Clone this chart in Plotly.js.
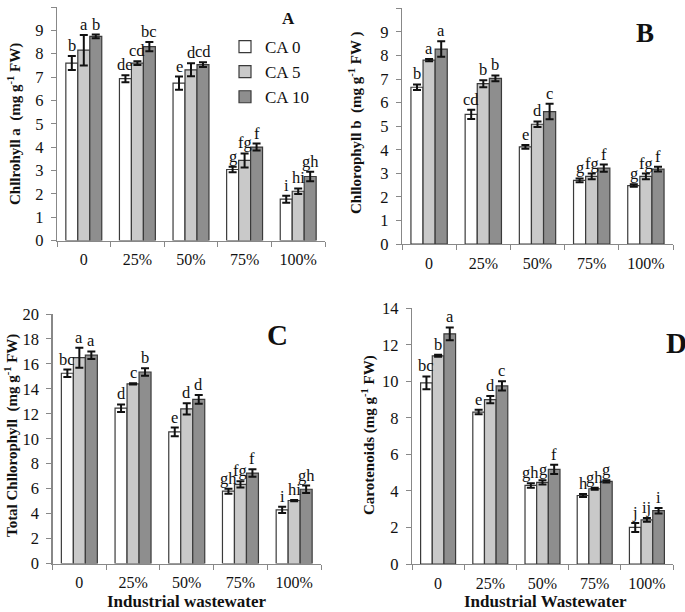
<!DOCTYPE html>
<html>
<head>
<meta charset="utf-8">
<script src="https://cdn.plot.ly/plotly-3.0.1.min.js"></script>
<style>html,body{margin:0;padding:0;background:#fff;}#chart{width:685px;height:612px;}</style>
</head>
<body>
<div id="chart"></div>
<script>
// ---- data ----
const categories = ['0', '25%', '50%', '75%', '100%'];
const seriesNames = ['CA 0', 'CA 5', 'CA 10'];

// Panel A: Chlorophyll a
const chlA_CA0 = [7.6, 6.93, 6.74, 3.04, 1.77];
const chlA_CA5 = [8.15, 7.6, 7.31, 3.43, 2.11];
const chlA_CA10 = [8.74, 8.3, 7.53, 4.0, 2.74];
const chlA_CA0_err = [0.3, 0.15, 0.28, 0.12, 0.15];
const chlA_CA5_err = [0.65, 0.08, 0.28, 0.3, 0.12];
const chlA_CA10_err = [0.08, 0.2, 0.1, 0.15, 0.2];
const chlA_CA0_let = ['b', 'de', 'e', 'g', 'i'];
const chlA_CA5_let = ['a', 'cd', 'd', 'fg', 'hi'];
const chlA_CA10_let = ['b', 'bc', 'cd', 'f', 'gh'];

// Panel B: Chlorophyll b
const chlB_CA0 = [6.65, 5.5, 4.12, 2.7, 2.48];
const chlB_CA5 = [7.8, 6.8, 5.08, 2.87, 2.87];
const chlB_CA10 = [8.27, 7.03, 5.62, 3.22, 3.18];
const chlB_CA0_err = [0.12, 0.2, 0.08, 0.08, 0.05];
const chlB_CA5_err = [0.05, 0.15, 0.12, 0.12, 0.12];
const chlB_CA10_err = [0.33, 0.12, 0.33, 0.15, 0.1];
const chlB_CA0_let = ['b', 'cd', 'e', 'g', 'g'];
const chlB_CA5_let = ['a', 'b', 'd', 'fg', 'fg'];
const chlB_CA10_let = ['a', 'b', 'c', 'f', 'f'];

// Panel C: Total chlorophyll
const tot_CA0 = [15.25, 12.45, 10.55, 5.8, 4.3];
const tot_CA5 = [16.5, 14.4, 12.4, 6.35, 5.05];
const tot_CA10 = [16.7, 15.35, 13.15, 7.25, 5.95];
const tot_CA0_err = [0.3, 0.3, 0.35, 0.2, 0.25];
const tot_CA5_err = [0.8, 0.05, 0.45, 0.25, 0.05];
const tot_CA10_err = [0.3, 0.3, 0.35, 0.3, 0.3];
const tot_CA0_let = ['bc', 'd', 'e', 'gh', 'i'];
const tot_CA5_let = ['a', 'c', 'd', 'fg', 'hi'];
const tot_CA10_let = ['a', 'b', 'd', 'f', 'gh'];

// Panel D: Carotenoids
const car_CA0 = [9.92, 8.32, 4.3, 3.75, 2.0];
const car_CA5 = [11.4, 9.0, 4.47, 4.12, 2.42];
const car_CA10 = [12.6, 9.75, 5.18, 4.52, 2.92];
const car_CA0_err = [0.35, 0.12, 0.12, 0.08, 0.25];
const car_CA5_err = [0.05, 0.2, 0.12, 0.06, 0.1];
const car_CA10_err = [0.35, 0.25, 0.25, 0.06, 0.15];
const car_CA0_let = ['bc', 'e', 'gh', 'h', 'j'];
const car_CA5_let = ['b', 'd', 'g', 'gh', 'ij'];
const car_CA10_let = ['a', 'c', 'f', 'g', 'i'];

// ---- styling ----
const W = 685, H = 612;
const SERIF = '"Liberation Serif", "Times New Roman", serif';
const fills = ['#ffffff', '#c9c9c9', '#8e8e8e'];
const BARGAP = 0.33;
const barW = (1 - BARGAP) / 3;

const panels = [
  {xa: 'x', ya: 'y', vals: [chlA_CA0, chlA_CA5, chlA_CA10], errs: [chlA_CA0_err, chlA_CA5_err, chlA_CA10_err], lets: [chlA_CA0_let, chlA_CA5_let, chlA_CA10_let], legend: true},
  {xa: 'x2', ya: 'y2', vals: [chlB_CA0, chlB_CA5, chlB_CA10], errs: [chlB_CA0_err, chlB_CA5_err, chlB_CA10_err], lets: [chlB_CA0_let, chlB_CA5_let, chlB_CA10_let]},
  {xa: 'x3', ya: 'y3', vals: [tot_CA0, tot_CA5, tot_CA10], errs: [tot_CA0_err, tot_CA5_err, tot_CA10_err], lets: [tot_CA0_let, tot_CA5_let, tot_CA10_let]},
  {xa: 'x4', ya: 'y4', vals: [car_CA0, car_CA5, car_CA10], errs: [car_CA0_err, car_CA5_err, car_CA10_err], lets: [car_CA0_let, car_CA5_let, car_CA10_let]}
];

const traces = [];
const annotations = [];
panels.forEach((p, pi) => {
  for (let s = 0; s < 3; s++) {
    traces.push({
      type: 'bar', x: categories, y: p.vals[s], name: seriesNames[s],
      xaxis: p.xa, yaxis: p.ya, legendgroup: seriesNames[s],
      showlegend: !!p.legend,
      marker: {color: fills[s], line: {color: '#3a3a3a', width: 1.2}},
      error_y: {type: 'data', array: p.errs[s], visible: true, color: '#111', thickness: 2, width: 4}
    });
    for (let i = 0; i < categories.length; i++) {
      annotations.push({
        xref: p.xa, yref: p.ya, x: i + (s - 1) * barW, y: p.vals[s][i] + p.errs[s][i],
        text: p.lets[s][i], showarrow: false, yanchor: 'bottom', xanchor: 'center',
        borderpad: 0, yshift: 0,
        font: {family: SERIF, size: 16.5, color: '#111'}
      });
    }
  }
});

function px(x) { return x / W; }
function py(y) { return 1 - y / H; }

function paperText(text, x, y, size, opts) {
  return Object.assign({xref: 'paper', yref: 'paper', x: px(x), y: py(y), text: text, showarrow: false,
    xanchor: 'center', yanchor: 'middle', font: {family: SERIF, size: size, color: '#111'}}, opts || {});
}

// axis titles and panel letters
annotations.push(paperText('<b>Chllrohyll a  (mg g<sup>-1</sup> FW)</b>', 15, 124, 15, {textangle: -90}));
annotations.push(paperText('<b>Chllorophyll b  (mg g<sup>-1</sup> FW )</b>', 356, 123, 15, {textangle: -90}));
annotations.push(paperText('<b>Total Chllorophyll  (mg g<sup>-1</sup> FW)</b>', 11, 436, 15, {textangle: -90}));
annotations.push(paperText('<b>Carotenoids (mg g<sup>-1</sup> FW)</b>', 368, 435, 15, {textangle: -90}));
annotations.push(paperText('<b>Industrial wastewater</b>', 187, 601, 17));
annotations.push(paperText('<b>Industrial Wastewater</b>', 545, 601, 17));
annotations.push(paperText('<b>A</b>', 288, 18, 17));
annotations.push(paperText('<b>B</b>', 645, 33, 27));
annotations.push(paperText('<b>C</b>', 277, 335, 29));
annotations.push(paperText('<b>D</b>', 664, 343, 29, {xanchor: 'left'}));

function xaxis(x0, x1, anchor) {
  return {domain: [px(x0), px(x1)], anchor: anchor, type: 'category', tickson: 'boundaries',
    ticks: 'outside', ticklen: 5, tickcolor: '#888', tickwidth: 1, showline: true, linecolor: '#888', linewidth: 1.3,
    showgrid: false, zeroline: false, tickfont: {family: SERIF, size: 16, color: '#111'}, ticklabelstandoff: 4,
    fixedrange: true};
}
function yaxis(y0, y1, anchor, maxv, dtick) {
  return {domain: [py(y1), py(y0)], anchor: anchor, range: [0, maxv], dtick: dtick, tick0: 0,
    ticks: 'outside', ticklen: 5, tickcolor: '#888', tickwidth: 1, showline: true, linecolor: '#888', linewidth: 1.3,
    showgrid: false, zeroline: false, tickfont: {family: SERIF, size: 16.5, color: '#111'}, ticklabelstandoff: 4,
    fixedrange: true};
}

const layout = {
  width: W, height: H, margin: {l: 0, r: 0, t: 0, b: 0},
  paper_bgcolor: '#fff', plot_bgcolor: '#fff',
  barmode: 'group', bargap: BARGAP, bargroupgap: 0,
  showlegend: true,
  legend: {x: px(225), y: py(29), xanchor: 'left', yanchor: 'top', bgcolor: 'rgba(0,0,0,0)',
    font: {family: SERIF, size: 17, color: '#111'}, tracegroupgap: 1.5, itemwidth: 30, traceorder: 'normal'},
  xaxis: xaxis(57, 325, 'y'),
  yaxis: yaxis(7, 240.5, 'x', 10, 1),
  xaxis2: xaxis(402, 673, 'y2'),
  yaxis2: yaxis(8.3, 244, 'x2', 10, 1),
  xaxis3: xaxis(52.5, 321, 'y3'),
  yaxis3: yaxis(314, 563.5, 'x3', 20, 2),
  xaxis4: xaxis(412, 673, 'y4'),
  yaxis4: yaxis(308.3, 564, 'x4', 14, 2),
  annotations: annotations
};

Plotly.newPlot('chart', traces, layout, {staticPlot: true, displayModeBar: false});
</script>
</body>
</html>
